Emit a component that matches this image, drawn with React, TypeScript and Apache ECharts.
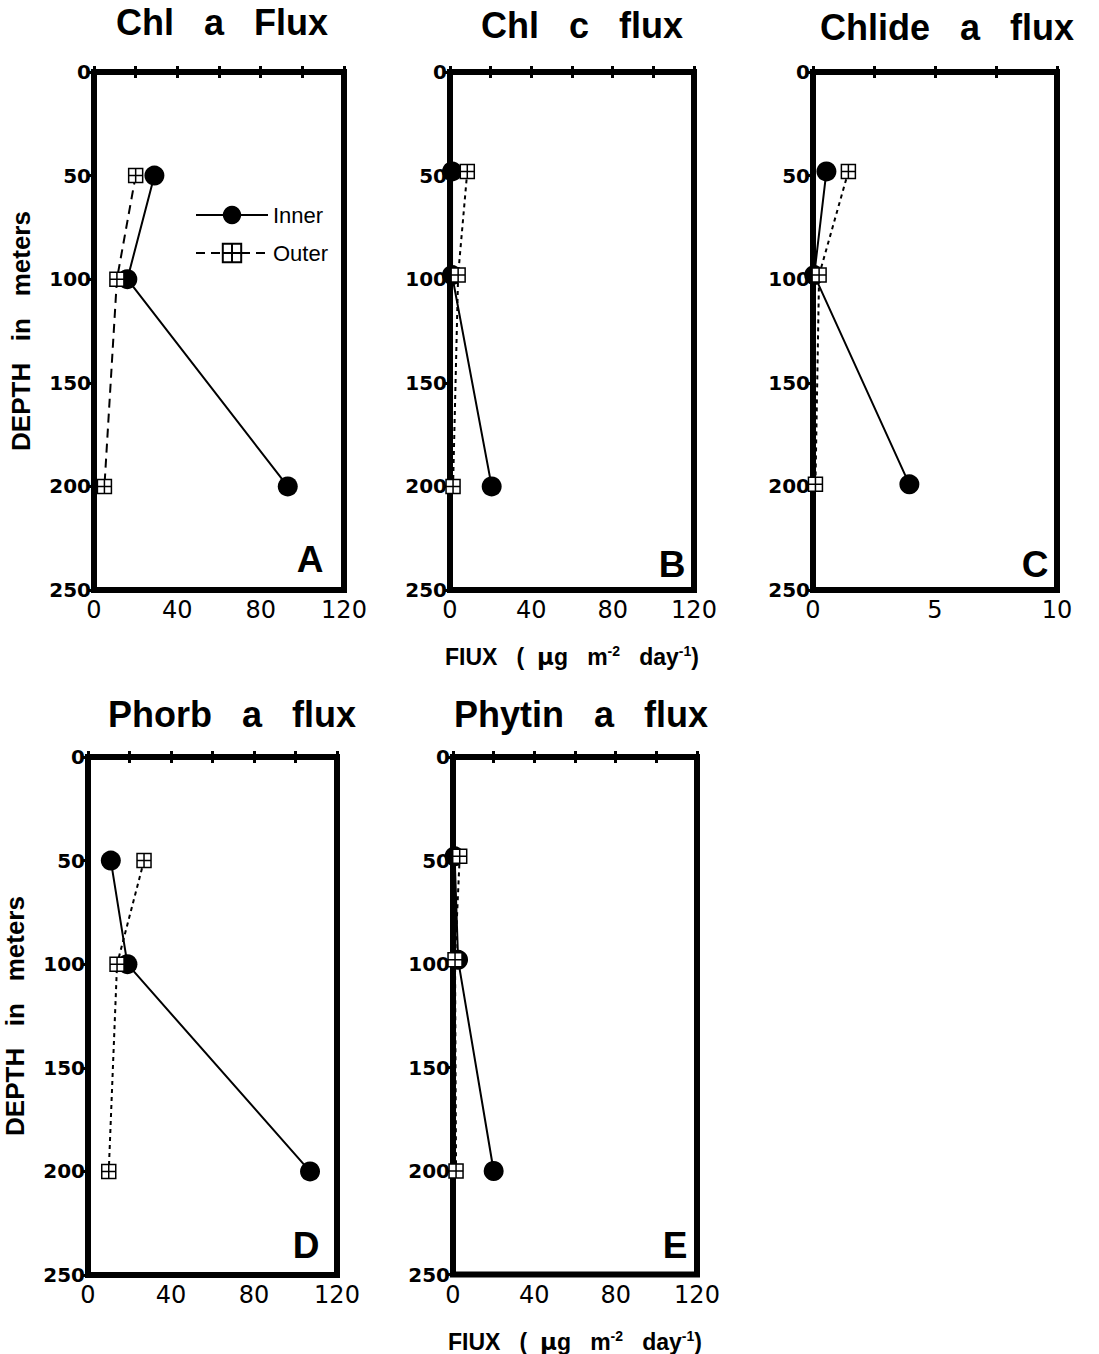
import React, { useEffect, useRef } from "react";
import * as echarts from "echarts";

// ---- data (flux values; depth in meters) ----
const DEPTH_A = [50, 100, 200];
const A_INNER = [29, 16, 93];
const A_OUTER = [20, 11, 5];

const DEPTH_B = [48, 98, 200];
const B_INNER = [1, 1, 20.5];
const B_OUTER = [8.5, 4, 1.5];

const DEPTH_C = [48, 98, 199];
const C_INNER = [0.55, 0.05, 3.95];
const C_OUTER = [1.45, 0.25, 0.1];

const DEPTH_D = [50, 100, 200];
const D_INNER = [11, 19, 107];
const D_OUTER = [27, 14, 10];

const DEPTH_E = [48, 98, 200];
const E_INNER = [0.8, 2.5, 20];
const E_OUTER = [3.3, 1, 1.5];

const TITLES = ["Chl   a   Flux", "Chl   c   flux", "Chlide   a   flux", "Phorb   a   flux", "Phytin   a   flux"];
const LETTERS = ["A", "B", "C", "D", "E"];
const X_MAX = [120, 120, 10, 120, 120];
const X_TICK = [20, 20, 2.5, 20, 20];
const X_LABEL_STEP = [40, 40, 5, 40, 40];
const Y_TICKS = [0, 50, 100, 150, 200, 250];
const SERIES_NAMES = ["Inner", "Outer"];

const PANEL_DATA = [
  { depth: DEPTH_A, inner: A_INNER, outer: A_OUTER },
  { depth: DEPTH_B, inner: B_INNER, outer: B_OUTER },
  { depth: DEPTH_C, inner: C_INNER, outer: C_OUTER },
  { depth: DEPTH_D, inner: D_INNER, outer: D_OUTER },
  { depth: DEPTH_E, inner: E_INNER, outer: E_OUTER },
];

// ---- layout ----
const GRIDS = [
  { left: 94, top: 72, width: 250, height: 518 },
  { left: 450, top: 72, width: 244, height: 518 },
  { left: 813, top: 72, width: 244, height: 518 },
  { left: 88, top: 757, width: 249, height: 518 },
  { left: 453, top: 757, width: 244, height: 518 },
];
const TITLE_POS = [
  [222, 22],
  [582, 25],
  [947, 27],
  [232, 714],
  [581, 714],
];
const LETTER_POS = [
  [310, 559],
  [672, 564],
  [1035, 564],
  [306, 1245],
  [675, 1245],
];
const OUTER_DASH = [[9, 6], [4, 4], [4, 4], [4, 4], [4, 4]];

const FONT = "Liberation Sans";
const NUM_FONT = "DejaVu Sans";
const SQUARE_PLUS = "path://M0 0H10V10H0ZM5 0V10M0 5H10";

export default function App() {
  const ref = useRef<HTMLDivElement>(null);

  useEffect(() => {
    document.body.style.margin = "0";
    const chart = echarts.init(ref.current!, null, { renderer: "svg" });

    const grid: any[] = [];
    const xAxis: any[] = [];
    const yAxis: any[] = [];
    const series: any[] = [];
    const graphic: any[] = [];

    GRIDS.forEach((g, i) => {
      grid.push({
        ...g,
        show: true,
        borderWidth: 6,
        borderColor: "#000",
        backgroundColor: "transparent",
        containLabel: false,
      });
      const step = X_LABEL_STEP[i];
      const xName =
        i === 1 || i === 4
          ? "{b|FIUX   (  }{mu|μ}{b|g   m}{sup|-2}{b|   day}{sup|-1}{b|)}"
          : "";
      xAxis.push({
        gridIndex: i,
        type: "value",
        position: "bottom",
        min: 0,
        max: X_MAX[i],
        interval: X_TICK[i],
        axisLine: { show: false },
        splitLine: { show: false },
        axisTick: { inside: true, length: 6, lineStyle: { width: 3, color: "#000" } },
        axisLabel: {
          margin: 8,
          fontSize: 24,
          fontFamily: NUM_FONT,
          color: "#000",
          formatter: (v: number) => (Math.abs(v / step - Math.round(v / step)) < 1e-6 ? String(v) : ""),
        },
        name: xName,
        nameLocation: "middle",
        nameGap: 54,
        nameTextStyle: {
          rich: {
            b: { fontSize: 23, fontWeight: "bold", fontFamily: FONT, color: "#000" },
            mu: { fontSize: 23, fontWeight: "bold", fontFamily: NUM_FONT, color: "#000" },
            sup: { fontSize: 14, fontWeight: "bold", fontFamily: FONT, color: "#000", verticalAlign: "top", lineHeight: 26 },
          },
        },
      });
      xAxis.push({
        gridIndex: i,
        type: "value",
        position: "top",
        min: 0,
        max: X_MAX[i],
        interval: X_TICK[i],
        axisLine: { show: false },
        splitLine: { show: false },
        axisTick: { inside: true, length: 6, lineStyle: { width: 3, color: "#000" } },
        axisLabel: { show: false },
      });
      yAxis.push({
        gridIndex: i,
        type: "value",
        position: "left",
        inverse: true,
        min: Y_TICKS[0],
        max: Y_TICKS[Y_TICKS.length - 1],
        interval: 50,
        axisLine: { show: false },
        splitLine: { show: false },
        axisTick: { inside: false, length: 5, lineStyle: { width: 3, color: "#000" } },
        axisLabel: {
          margin: 3,
          fontSize: 20,
          fontWeight: "bold",
          fontFamily: NUM_FONT,
          color: "#000",
        },
        name: i === 0 || i === 3 ? "DEPTH   in   meters" : "",
        nameLocation: "middle",
        nameRotate: 90,
        nameGap: 60,
        nameTextStyle: { fontSize: 26, fontWeight: "bold", fontFamily: FONT, color: "#000" },
      });
      yAxis.push({
        gridIndex: i,
        type: "value",
        position: "right",
        inverse: true,
        min: 0,
        max: 250,
        interval: 50,
        axisLine: { show: false },
        splitLine: { show: false },
        axisTick: { inside: true, length: 6, lineStyle: { width: 3, color: "#000" } },
        axisLabel: { show: false },
      });

      const pd = PANEL_DATA[i];
      series.push({
        name: SERIES_NAMES[0],
        type: "line",
        xAxisIndex: 2 * i,
        yAxisIndex: 2 * i,
        data: pd.depth.map((d, k) => [pd.inner[k], d]),
        symbol: "circle",
        symbolSize: 20,
        showAllSymbol: true,
        itemStyle: { color: "#000" },
        lineStyle: { color: "#000", width: 2 },
        z: 3,
      });
      series.push({
        name: SERIES_NAMES[1],
        type: "line",
        xAxisIndex: 2 * i,
        yAxisIndex: 2 * i,
        data: pd.depth.map((d, k) => [pd.outer[k], d]),
        symbol: SQUARE_PLUS,
        symbolSize: 14,
        showAllSymbol: true,
        itemStyle: { color: "#fff", borderColor: "#000", borderWidth: 1.5 },
        lineStyle: { color: "#000", width: 2, type: OUTER_DASH[i] },
        z: 4,
      });

      graphic.push({
        type: "text",
        x: TITLE_POS[i][0],
        y: TITLE_POS[i][1],
        style: {
          text: TITLES[i],
          fontSize: 36,
          fontWeight: "bold",
          fontFamily: FONT,
          fill: "#000",
          textAlign: "center",
          textVerticalAlign: "middle",
        },
      });
      graphic.push({
        type: "text",
        x: LETTER_POS[i][0],
        y: LETTER_POS[i][1],
        style: {
          text: LETTERS[i],
          fontSize: 37,
          fontWeight: "bold",
          fontFamily: FONT,
          fill: "#000",
          textAlign: "center",
          textVerticalAlign: "middle",
        },
      });
    });

    chart.setOption({
      animation: false,
      backgroundColor: "#fff",
      grid,
      xAxis,
      yAxis,
      series,
      graphic,
      legend: {
        data: SERIES_NAMES,
        orient: "vertical",
        left: 190,
        top: 199,
        itemWidth: 72,
        itemHeight: 23,
        itemGap: 16,
        selectedMode: false,
        textStyle: { fontSize: 22, fontFamily: FONT, color: "#000" },
      },
    });

    return () => chart.dispose();
  }, []);

  return <div ref={ref} style={{ width: 1099, height: 1354 }} />;
}
